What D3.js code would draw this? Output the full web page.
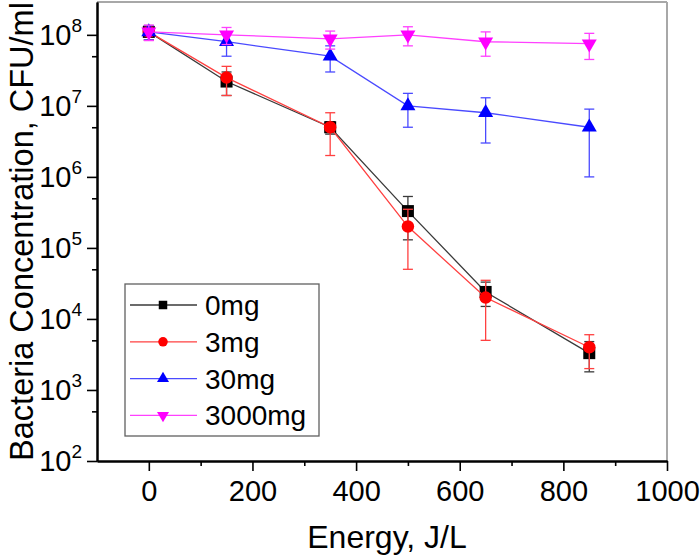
<!DOCTYPE html>
<html><head><meta charset="utf-8">
<script src="https://cdn.jsdelivr.net/npm/d3@7"></script>
<style>body{margin:0;background:#fff}svg{display:block}text{font-family:"Liberation Sans",Arial,sans-serif;fill:#000}</style>
</head><body>
<svg id="c" width="700" height="560"></svg>
<script>
const energy = [0, 150, 350, 500, 650, 850];
const seriesNames = ["0mg", "3mg", "30mg", "3000mg"];
const mg0 = [1.1e8, 2.2e7, 5e6, 3.3e5, 2.4e4, 3.3e3];
const err0 = [2.5e7, 8e6, 1e6, 2e5, 9e3, 1.5e3];
const mg3 = [1.1e8, 2.5e7, 5e6, 2e5, 2e4, 4e3];
const err3 = [2.5e7, 1.1e7, 3e6, 1.5e5, 1.5e4, 2e3];
const mg30 = [1.1e8, 8e7, 5e7, 1e7, 8e6, 5e6];
const err30 = [2.5e7, 3e7, 2e7, 5e6, 5e6, 4e6];
const mg3000 = [1.1e8, 1e8, 8.8e7, 1e8, 8e7, 7.5e7];
const err3000 = [2.7e7, 2.7e7, 2.5e7, 3e7, 3e7, 3e7];
const xTicks = [0, 200, 400, 600, 800, 1000];
const xMinor = [100, 300, 500, 700, 900];
const yTicks = [1e2, 1e3, 1e4, 1e5, 1e6, 1e7, 1e8];
const yMinor = [5e2, 5e3, 5e4, 5e5, 5e6, 5e7];

const styles = [
  {line:"#3a3a3a", fill:"#000", sym:"square"},
  {line:"#ff4040", fill:"#ff0000", sym:"circle"},
  {line:"#4a4aff", fill:"#0000ff", sym:"up"},
  {line:"#ff40ff", fill:"#ff00ff", sym:"down"}
];
const values = [mg0, mg3, mg30, mg3000];
const errs = [err0, err3, err30, err3000];

const L = 97, R = 667, T = 2, B = 461;
const svg = d3.select("#c");
const x = d3.scaleLinear().domain([-100, 1000]).range([L, R]);
const y = d3.scaleLog().domain([1e2, 2.9e8]).range([B, T]);

function symPath(kind, s) {
  if (kind === "square") return d3.symbol(d3.symbolSquare, s*s)();
  if (kind === "circle") return d3.symbol(d3.symbolCircle, Math.PI*s*s/4)();
  return d3.symbol(d3.symbolTriangle, Math.sqrt(3)/4*s*s)();
}

svg.append("line").attr("x1", L).attr("x2", R).attr("y1", T).attr("y2", T).attr("stroke", "#a8a8a8").attr("stroke-width", 2);
svg.append("line").attr("x1", R).attr("x2", R).attr("y1", T).attr("y2", B).attr("stroke", "#a8a8a8").attr("stroke-width", 2);

const gx = svg.append("g").attr("transform", `translate(0,${B})`)
  .call(d3.axisBottom(x).tickValues(xTicks).tickSize(10).tickSizeOuter(0).tickFormat(d3.format("d")));
gx.append("g").call(d3.axisBottom(x).tickValues(xMinor).tickSize(5).tickSizeOuter(0).tickFormat(""));
gx.selectAll(".domain").attr("stroke", "#000").attr("stroke-width", 2);
gx.selectAll(".tick line").attr("stroke", "#000").attr("stroke-width", 1.6);
gx.selectAll(".tick text").attr("font-size", 29).attr("dy", 0).attr("y", 40).attr("font-family", '"Liberation Sans",Arial,sans-serif');

const gy = svg.append("g").attr("transform", `translate(${L},0)`)
  .call(d3.axisLeft(y).tickValues(yTicks).tickSize(10).tickSizeOuter(0).tickFormat(""));
gy.append("g").call(d3.axisLeft(y).tickValues(yMinor).tickSize(5).tickSizeOuter(0).tickFormat(""));
gy.selectAll(".domain").attr("stroke", "#000").attr("stroke-width", 2);
gy.selectAll(".tick line").attr("stroke", "#000").attr("stroke-width", 1.6);
yTicks.forEach(v => {
  const t = svg.append("text").attr("x", 82).attr("y", y(v) + 10).attr("text-anchor", "end").attr("font-size", 29);
  t.append("tspan").text("10");
  t.append("tspan").attr("font-size", 19).attr("dy", -13).text(Math.round(Math.log10(v)));
});

svg.append("text").attr("x", 387).attr("y", 548).attr("text-anchor", "middle").attr("font-size", 32).text("Energy, J/L");
svg.append("text").attr("transform", `translate(33,${(T+B)/2}) rotate(-90)`).attr("text-anchor", "middle").attr("font-size", 32.5).text("Bacteria Concentration, CFU/ml");

const plot = svg.append("g");
values.forEach((vals, si) => {
  const st = styles[si];
  const g = plot.append("g");
  const pts = energy.map((e, i) => ({e, v: vals[i], s: errs[si][i]}));
  g.append("path").datum(pts).attr("fill", "none").attr("stroke", st.line).attr("stroke-width", 1.3)
    .attr("d", d3.line().x(d => x(d.e)).y(d => y(d.v)));
  pts.forEach(d => {
    const x0 = x(d.e), y1 = y(d.v + d.s), y2 = y(Math.max(d.v - d.s, 1e2));
    g.append("line").attr("x1", x0).attr("x2", x0).attr("y1", y1).attr("y2", y2).attr("stroke", st.line).attr("stroke-width", 1.3);
    [y1, y2].forEach(yy => g.append("line").attr("x1", x0-5).attr("x2", x0+5).attr("y1", yy).attr("y2", yy).attr("stroke", st.line).attr("stroke-width", 1.3));
  });
  pts.forEach(d => {
    const size = st.sym === "square" ? 12 : st.sym === "circle" ? 12.5 : 15;
    g.append("path").attr("d", symPath(st.sym, size)).attr("fill", st.fill)
      .attr("transform", `translate(${x(d.e)},${y(d.v)})${st.sym === "down" ? " rotate(180)" : ""}`);
  });
});

const lg = svg.append("g");
lg.append("rect").attr("x", 125).attr("y", 284).attr("width", 194).attr("height", 152).attr("fill", "#fff").attr("stroke", "#606060").attr("stroke-width", 1.3);
seriesNames.forEach((n, i) => {
  const st = styles[i];
  const yy = 305 + i * 36.8;
  lg.append("line").attr("x1", 130).attr("x2", 197).attr("y1", yy).attr("y2", yy).attr("stroke", st.line).attr("stroke-width", 1.3);
  const size = st.sym === "square" ? 8.5 : st.sym === "circle" ? 9.5 : 12;
  lg.append("path").attr("d", symPath(st.sym, size)).attr("fill", st.fill)
    .attr("transform", `translate(163,${yy})${st.sym === "down" ? " rotate(180)" : ""}`);
  lg.append("text").attr("x", 205).attr("y", yy + 10).attr("font-size", 28).text(n);
});
</script>
</body></html>
